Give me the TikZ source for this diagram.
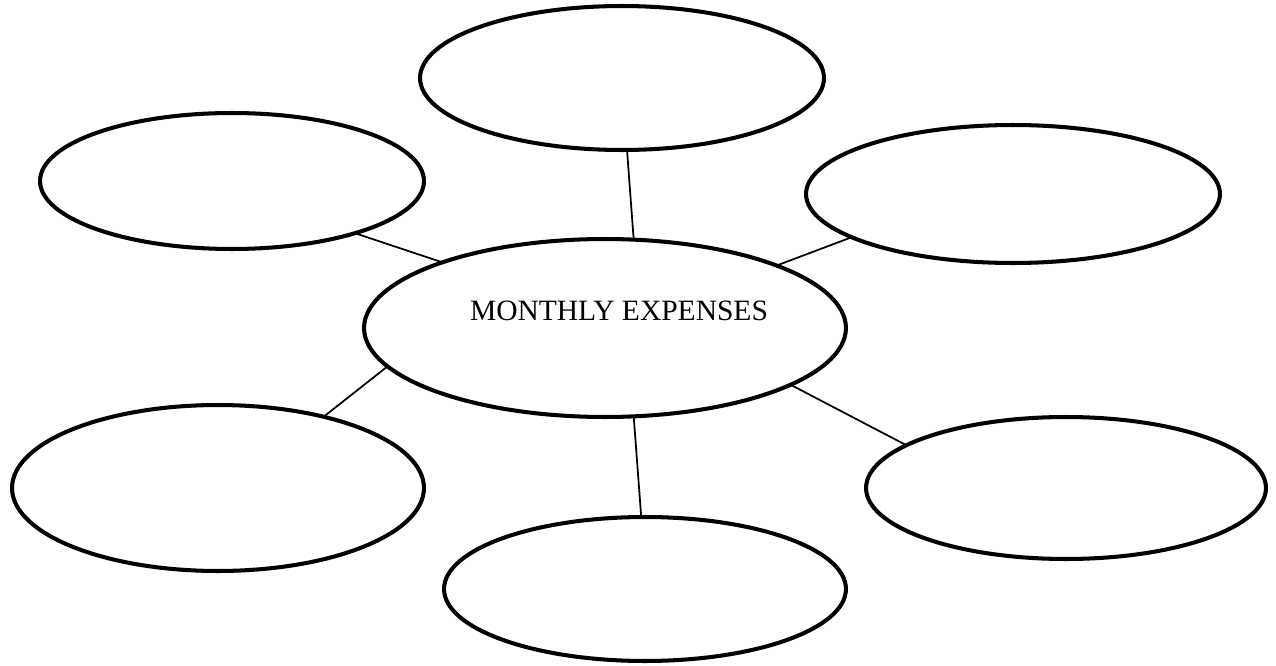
\documentclass[tikz,border=0pt]{standalone}
\usepackage{fontspec}
\setmainfont{Liberation Serif}
\usetikzlibrary{shapes.geometric}
\tikzset{
  bubble/.style={ellipse, draw=black, line width=2.3pt, inner sep=0pt, outer sep=0pt},
  link/.style={draw=black, line width=1pt},
}
\begin{document}
\begin{tikzpicture}[x=0.02cm,y=-0.02cm]
\useasboundingbox (0,0) rectangle (1276,666);
\node[bubble, minimum width=8.08cm, minimum height=2.88cm] (top) at (622,78) {};
\node[bubble, minimum width=7.68cm, minimum height=2.72cm] (tl) at (232,181) {};
\node[bubble, minimum width=8.28cm, minimum height=2.76cm] (tr) at (1013,194) {};
\node[bubble, minimum width=9.64cm, minimum height=3.56cm] (ctr) at (605,328) {};
\node[bubble, minimum width=8.24cm, minimum height=3.32cm] (bl) at (218,488) {};
\node[bubble, minimum width=8.00cm, minimum height=2.84cm] (br) at (1066,488) {};
\node[bubble, minimum width=8.04cm, minimum height=2.88cm] (bot) at (645,589) {};
\node[font=\fontsize{16.8}{20}\selectfont, inner sep=0pt] (ctext) at (619,311) {MONTHLY EXPENSES};
\draw[link] (top.-86.9) -- (ctr.72.7);
\draw[link] (tl.-23.2) -- (ctr.158.3);
\draw[link] (tr.-165.4) -- (ctr.20.8);
\draw[link] (bl.34.1) -- (ctr.-170.3);
\draw[link] (bot.93.2) -- (ctr.-72.1);
\draw[link] (br.165.2) -- (ctr.-17.4);
\end{tikzpicture}
\end{document}
